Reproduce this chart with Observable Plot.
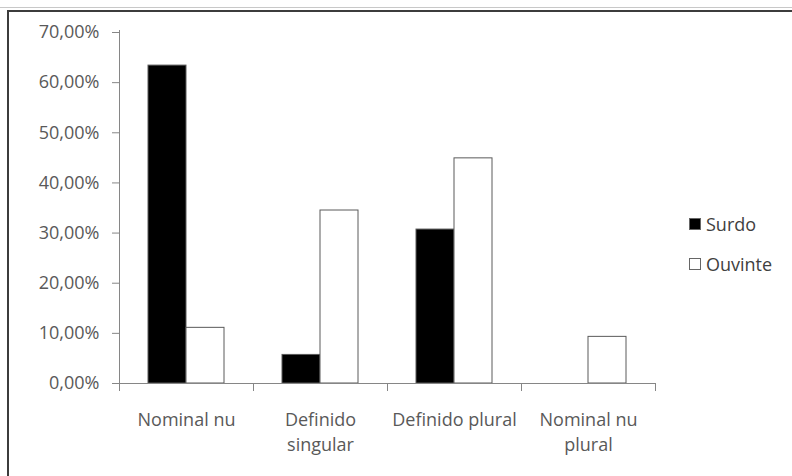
<!DOCTYPE html>
<html>
<head>
<meta charset="utf-8">
<script src="https://cdn.jsdelivr.net/npm/d3@7"></script>
<script src="https://cdn.jsdelivr.net/npm/@observablehq/plot@0.6"></script>
<style>
  html, body { margin: 0; padding: 0; background: #fff; }
  #wrap { position: relative; width: 792px; height: 476px; overflow: hidden; background: #fff; font-family: "Open Sans", sans-serif; }
  #wrap svg { position: absolute; left: 0; top: 0; }
  .lineTopLight { position: absolute; left: 0; top: 7px; width: 792px; height: 1px; background: #c8c8c8; }
  .frame { position: absolute; left: 7px; top: 10px; right: -10px; bottom: -10px; border-top: 2px solid #3c3c3c; border-left: 2px solid #3c3c3c; }
  .legend { position: absolute; left: 689px; top: 211px; font-size: 18px; color: #404040; }
  .legend .item { display: flex; align-items: center; height: 25px; margin-bottom: 15px; }
  .legend .sw { width: 12px; height: 12px; box-sizing: border-box; border: 1px solid #666; margin-right: 5px; }
</style>
</head>
<body>
<div id="wrap">
  <div class="lineTopLight"></div>
  <div class="frame"></div>
  <div class="legend" id="legend"></div>
</div>
<script>
const categories = ["Nominal nu", "Definido singular", "Definido plural", "Nominal nu plural"];
const categoryLabels = ["Nominal nu", "Definido\nsingular", "Definido plural", "Nominal nu\nplural"];
const series = ["Surdo", "Ouvinte"];
const seriesColors = ["#000000", "#ffffff"];
const surdo = [0.634, 0.057, 0.307, 0];
const ouvinte = [0.111, 0.345, 0.449, 0.093];
const yTicks = [0, 0.1, 0.2, 0.3, 0.4, 0.5, 0.6, 0.7];

const data = [];
categories.forEach((c, i) => {
  data.push({category: c, series: "Surdo", value: surdo[i]});
  data.push({category: c, series: "Ouvinte", value: ouvinte[i]});
});

const W = 792, H = 476, mT = 32, mB = 93, mL = 119, mR = 137;
const plotH = H - mT - mB;
const axisGray = "#868686";
const fmt = d => (d * 100).toFixed(2).replace(".", ",") + "%";
const labelOf = c => categoryLabels[categories.indexOf(c)];

const chart = Plot.plot({
  width: W,
  height: H,
  marginTop: mT,
  marginBottom: mB,
  marginLeft: mL,
  marginRight: mR,
  style: {fontFamily: "'Open Sans', sans-serif", fontSize: "18px", color: "#595959", background: "transparent", overflow: "visible"},
  fx: {domain: categories, padding: 0, label: null},
  x: {domain: series, paddingInner: 0, paddingOuter: 0.74, axis: null, label: null},
  y: {domain: [0, 0.7], label: null},
  color: {domain: series, range: seriesColors},
  marks: [
    Plot.frame({anchor: "left", facetAnchor: "left", stroke: axisGray, insetTop: -2}),
    Plot.frame({anchor: "left", stroke: axisGray, insetTop: plotH, insetBottom: -7}),
    Plot.frame({anchor: "right", stroke: axisGray, insetTop: plotH, insetBottom: -7}),
    Plot.barY(data.filter(d => d.value > 0), {fx: "category", x: "series", y: "value", fill: "series", stroke: "#5a5a5a", strokeWidth: 1}),
    Plot.frame({anchor: "bottom", stroke: axisGray}),
    Plot.axisY({ticks: yTicks, tickFormat: fmt, tickSize: 7, tickPadding: 13, stroke: axisGray, label: null}),
    Plot.axisFx({anchor: "bottom", tickSize: 0, tickPadding: 25, tickFormat: labelOf, lineHeight: 1.39, label: null})
  ]
});
document.getElementById("wrap").insertBefore(chart, document.getElementById("wrap").firstChild);

const legend = document.getElementById("legend");
series.forEach((s, i) => {
  const item = document.createElement("div");
  item.className = "item";
  const sw = document.createElement("span");
  sw.className = "sw";
  sw.style.background = seriesColors[i];
  const t = document.createElement("span");
  t.textContent = s;
  item.appendChild(sw);
  item.appendChild(t);
  legend.appendChild(item);
});
</script>
</body>
</html>
